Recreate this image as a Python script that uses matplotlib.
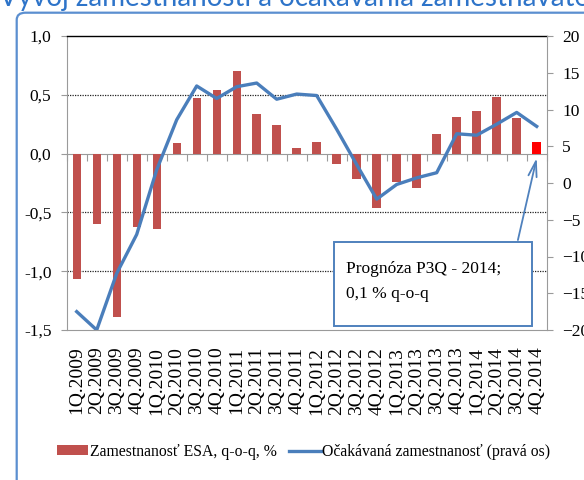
import matplotlib
matplotlib.use("Agg")
import matplotlib.pyplot as plt
import numpy as np
from matplotlib.patches import FancyBboxPatch, Rectangle

# ---- data ----
categories = ["1Q.2009", "2Q.2009", "3Q.2009", "4Q.2009",
              "1Q.2010", "2Q.2010", "3Q.2010", "4Q.2010",
              "1Q.2011", "2Q.2011", "3Q.2011", "4Q.2011",
              "1Q.2012", "2Q.2012", "3Q.2012", "4Q.2012",
              "1Q.2013", "2Q.2013", "3Q.2013", "4Q.2013",
              "1Q.2014", "2Q.2014", "3Q.2014", "4Q.2014"]
employment_esa = [-1.07, -0.60, -1.39, -0.62, -0.645, 0.09, 0.47, 0.54,
                  0.70, 0.34, 0.24, 0.05, 0.10, -0.085, -0.22, -0.465,
                  -0.24, -0.29, 0.17, 0.31, 0.36, 0.48, 0.30, 0.10]
expected_employment = [-17.5, -20.0, -12.3, -7.0, 1.8, 8.6, 13.2, 11.5,
                       13.1, 13.6, 11.4, 12.1, 11.9, 7.3, 2.5, -2.2,
                       -0.2, 0.7, 1.4, 6.7, 6.5, 8.0, 9.6, 7.7]
forecast_index = 23
left_ticks = [-1.5, -1.0, -0.5, 0.0, 0.5, 1.0]
left_ticklabels = ["-1,5", "-1,0", "-0,5", "0,0", "0,5", "1,0"]
right_ticks = [-20, -15, -10, -5, 0, 5, 10, 15, 20]

title = "Vývoj zamestnanosti a očakávania zamestnávateľov"
bar_label = "Zamestnanosť ESA, q-o-q, %"
line_label = "Očakávaná zamestnanosť (pravá os)"
note_text = "Prognóza P3Q - 2014;\n0,1 % q-o-q"

# ---- style ----
plt.rcParams["font.family"] = ["Liberation Serif", "DejaVu Serif"]
bar_color = "#c0504d"
forecast_color = "#ff0000"
line_color = "#4a7ebb"
frame_color = "#5b8fd0"
axis_gray = "#9a9a9a"

fig = plt.figure(figsize=(5.84, 4.80), dpi=100)
W, H = 584, 480

# slide frame and cropped title
frame = FancyBboxPatch((16.7 / W, -0.2), 1.2, 1 - 12.7 / 480 + 0.2,
                       boxstyle="round,pad=0,rounding_size=0.015",
                       transform=fig.transFigure, facecolor="none",
                       edgecolor=frame_color, linewidth=1.6, zorder=0)
fig.patches.append(frame)
fig.text(-0.002, 1 - 6 / H, title, fontsize=20, color="#2e74c9",
         family=["Lato", "DejaVu Sans"], va="baseline", ha="left")

ax = fig.add_axes([66.7 / W, 1 - 330 / H, 480 / W, 294 / H])
ax2 = ax.twinx()

x = np.arange(len(categories))
colors = [forecast_color if i == forecast_index else bar_color for i in range(len(categories))]
ax.bar(x, employment_esa, width=0.42, color=colors, zorder=3, label=bar_label)

ax.set_xlim(-0.5, len(categories) - 0.5)
ax.set_ylim(-1.5, 1.0)
ax.set_yticks(left_ticks)
ax.set_yticklabels(left_ticklabels)
for v in [-1.0, -0.5, 0.5]:
    ax.axhline(v, color="#222222", linewidth=0.9, linestyle=(0, (1, 1)), zorder=1)

ax.set_xticks(x)
ax.set_xticklabels(categories, rotation=90, fontsize=14)
ax.tick_params(axis="x", length=0, pad=12)
ax.tick_params(axis="y", labelsize=12.5, length=4, color=axis_gray, pad=7)

for s in ["left", "bottom"]:
    ax.spines[s].set_color(axis_gray)
ax.spines["right"].set_visible(False)
ax.spines["top"].set_color("black")
ax.spines["top"].set_linewidth(1.0)

# zero line with category separator ticks
zero_frac = (0 - (-1.5)) / (1.0 - (-1.5))
sec = ax.secondary_xaxis(zero_frac)
sec.set_xticks(np.arange(-0.5, len(categories), 1.0))
sec.tick_params(axis="x", direction="out", length=5, color=axis_gray,
                labelbottom=False, labeltop=False, bottom=True, top=False)
sec.spines["bottom"].set_color(axis_gray)
sec.spines["top"].set_visible(False)
sec.spines["bottom"].set_visible(True)

# right axis line
ax2.plot(x, expected_employment, color=line_color, linewidth=2.4, zorder=4,
         label=line_label)
ax2.set_ylim(-20, 20)
ax2.set_yticks(right_ticks)
ax2.tick_params(axis="y", labelsize=12.5, length=4, color=axis_gray, pad=7)
ax2.spines["right"].set_color(axis_gray)
for s in ["left", "top", "bottom"]:
    ax2.spines[s].set_visible(False)

# annotation box and arrow
box = Rectangle((0.557, 0.014), 0.412, 0.285, transform=ax2.transAxes,
                facecolor="white", edgecolor="#4f81bd", linewidth=1.4, zorder=6)
ax2.add_patch(box)
ax2.text(0.582, 0.166, note_text, transform=ax2.transAxes, fontsize=12.5,
         va="center", ha="left", linespacing=1.75, zorder=7)
ax2.annotate("", xy=(x[forecast_index], 3.4), xycoords="data",
             xytext=(0.94, 0.306), textcoords="axes fraction",
             arrowprops=dict(arrowstyle="->,head_length=1.1,head_width=0.3",
                             color="#4f81bd", lw=1.3,
                             shrinkA=0, shrinkB=0, mutation_scale=10),
             zorder=7)

# legend
handles1, labels1 = ax.get_legend_handles_labels()
handles2, labels2 = ax2.get_legend_handles_labels()
fig.legend(handles1 + handles2, labels1 + labels2, loc="center",
           bbox_to_anchor=(0.52, 1 - 452 / H), ncol=2, frameon=False,
           fontsize=11.3, handlelength=2.0, handletextpad=0.1,
           columnspacing=0.8, handleheight=0.6)

fig.savefig("out.png", dpi=100)
